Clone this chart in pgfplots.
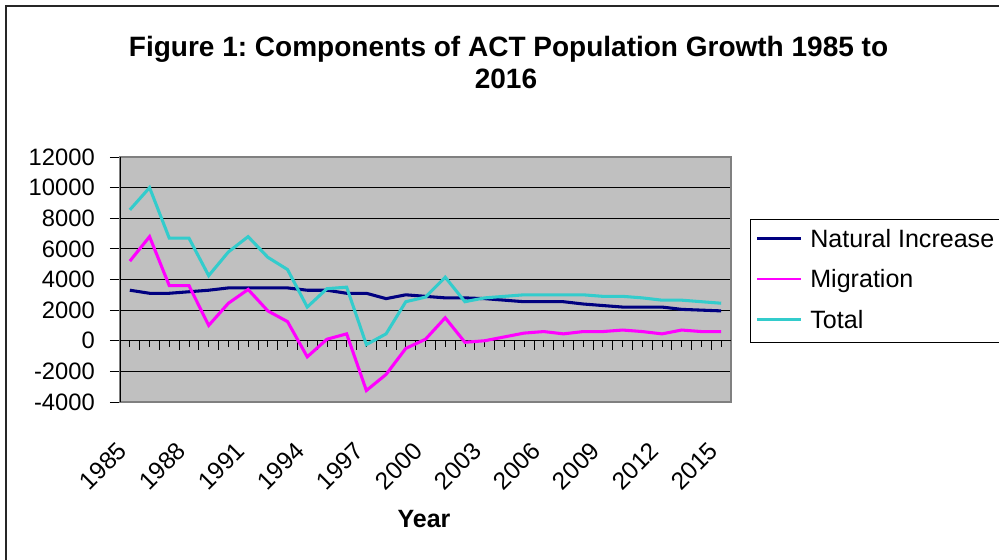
\documentclass[border=0pt]{standalone}
\usepackage{fontspec}
\setmainfont{Liberation Sans}
\usepackage{pgfplots}
\usepackage{pgfplotstable}
\pgfplotsset{compat=1.18}
\frenchspacing

\definecolor{natblue}{HTML}{000080}
\definecolor{migpink}{HTML}{FF00FF}
\definecolor{totteal}{HTML}{33CCCC}
\definecolor{plotgray}{HTML}{C0C0C0}

% x = year index (0 = 1985), N = natural increase, M = migration, T = total
\pgfplotstableread{
x N M T
0 3300 5200 8550
1 3100 6800 10000
2 3100 3600 6700
3 3200 3600 6700
4 3300 1000 4250
5 3450 2450 5800
6 3450 3350 6800
7 3450 1950 5450
8 3450 1250 4650
9 3300 -1050 2200
10 3300 100 3400
11 3100 450 3500
12 3100 -3250 -250
13 2750 -2200 450
14 3000 -500 2550
15 2900 100 2850
16 2800 1500 4150
17 2800 -100 2550
18 2750 0 2800
19 2650 250 2900
20 2550 500 3000
21 2550 600 3000
22 2550 450 3000
23 2400 600 3000
24 2300 600 2900
25 2200 700 2900
26 2200 600 2800
27 2200 450 2650
28 2050 700 2650
29 2000 600 2550
30 1950 600 2450
}\actdata

\begin{document}
\begin{tikzpicture}
\useasboundingbox (0,0) rectangle (749.25pt,-420pt);
% outer chart frame (right and bottom edges fall outside the picture)
\draw[line width=1.2pt, black!85] (4.5pt,-430pt) -- (4.5pt,-4.5pt) -- (760pt,-4.5pt);
\node[font=\fontsize{21}{25}\selectfont\bfseries, anchor=base, inner sep=0pt]
  at (381.4pt,-42.5pt) {Figure 1: Components of ACT Population Growth 1985 to};
\node[font=\fontsize{21}{25}\selectfont\bfseries, anchor=base, inner sep=0pt]
  at (379.5pt,-66.75pt) {2016};
\node[font=\fontsize{18.75}{22}\selectfont\bfseries, anchor=base, inner sep=0pt]
  at (318pt,-395.25pt) {Year};

\begin{axis}[
  at={(90pt,-301.5pt)}, anchor=south west,
  scale only axis, width=458.25pt, height=183.75pt,
  xmin=-0.5, xmax=30.5, ymin=-4000, ymax=12000,
  axis background/.style={fill=plotgray},
  axis line style={draw=gray, line width=0.9pt},
  scaled y ticks=false,
  ytick={-4000,-2000,0,2000,4000,6000,8000,10000,12000},
  yticklabels={-4000,-2000,0,2000,4000,6000,8000,10000,12000},
  xtick={0,3,6,9,12,15,18,21,24,27,30},
  xticklabels={1985,1988,1991,1994,1997,2000,2003,2006,2009,2012,2015},
  ymajorgrids, grid style={black, line width=0.6pt},
  ytick pos=left, xtick pos=bottom,
  tick align=outside, major tick length=7.5pt,
  ytick style={black, line width=0.6pt},
  xtick style={draw=none},
  tick label style={font=\fontsize{17.8}{20}\selectfont},
  yticklabel style={anchor=east, inner sep=0pt, xshift=-11.25pt},
  xticklabel style={font=\fontsize{18.3}{20}\selectfont, inner sep=0pt,
    xshift=-5.5pt, yshift=-26pt, rotate=45, anchor=east},
  legend style={at={(axis description cs:1.031,0.747)}, anchor=north west,
    draw=black, line width=0.6pt, fill=white,
    font=\fontsize{18.8}{22}\selectfont,
    inner xsep=4pt, inner ysep=7.25pt, row sep=13.4pt, column sep=6pt,
    nodes={inner sep=0pt, text height=13.5pt, text depth=3.5pt}},
  legend cell align=left,
  legend image code/.code={\draw[#1, line width=2pt] (0pt,1.5pt) -- (33pt,1.5pt);},
]
% zero line with its category tick marks
\draw[black, line width=0.8pt] (axis cs:-0.5,0) -- (axis cs:30.5,0);
\pgfplotsinvokeforeach{0,...,30}{
  \draw[black, line width=0.6pt] (axis cs:#1,0) -- ++(0pt,-4.5pt);
}
\pgfplotsinvokeforeach{0,...,29}{
  \draw[black, line width=0.6pt] (axis cs:#1.5,0) -- ++(0pt,-6.75pt);
}
\draw[black, line width=0.9pt] (rel axis cs:0,0) -- (rel axis cs:0,1);

\addplot[natblue, line width=2.3pt] table[x=x, y=N] {\actdata};
\addlegendentry{Natural Increase}
\addplot[migpink, line width=2.3pt] table[x=x, y=M] {\actdata};
\addlegendentry{Migration}
\addplot[totteal, line width=2.3pt] table[x=x, y=T] {\actdata};
\addlegendentry{Total}
\end{axis}
\end{tikzpicture}
\end{document}
